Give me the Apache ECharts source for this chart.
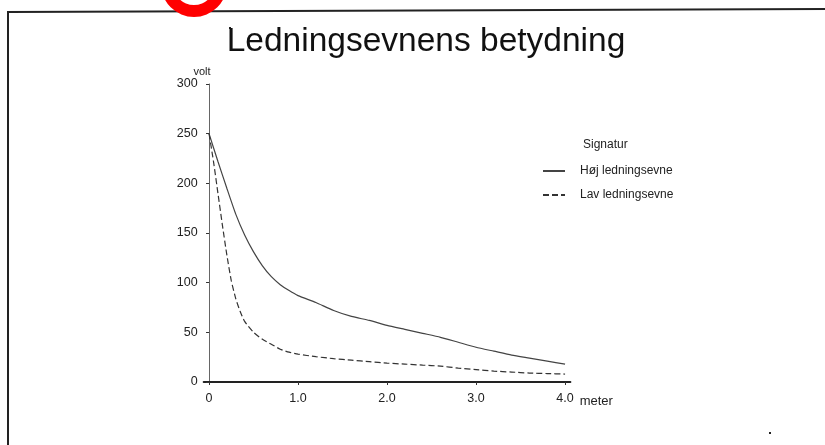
<!DOCTYPE html>
<html>
<head>
<meta charset="utf-8">
<script src="https://cdn.jsdelivr.net/npm/echarts@6/dist/echarts.min.js"></script>
<style>html,body{margin:0;padding:0;background:#fff}#c{width:825px;height:445px}</style>
</head>
<body>
<div id="c"></div>
<script>
// ---- data ----
var titleText = 'Ledningsevnens betydning';
var legendTitle = 'Signatur';
var seriesNames = ['Høj ledningsevne', 'Lav ledningsevne'];
var xTicks = [0, 1, 2, 3, 4];
var yTicks = [0, 50, 100, 150, 200, 250, 300];
var hojX = [0, 0.1, 0.2, 0.3, 0.4, 0.5, 0.6, 0.7, 0.8, 0.9, 1.0, 1.2, 1.4, 1.6, 1.8, 2.0, 2.2, 2.4, 2.6, 2.8, 3.0, 3.2, 3.4, 3.6, 3.8, 4.0];
var hojY = [250, 222, 195, 169, 148, 131, 117, 106, 98, 92, 87, 80, 72, 66, 62, 57, 53, 49, 45, 40, 35, 31, 27, 24, 21, 18];
var lavX = [0, 0.05, 0.1, 0.15, 0.2, 0.25, 0.3, 0.35, 0.4, 0.5, 0.6, 0.7, 0.8, 0.9, 1.0, 1.2, 1.4, 1.6, 1.8, 2.0, 2.2, 2.4, 2.6, 2.8, 3.0, 3.2, 3.4, 3.6, 3.8, 4.0];
var lavY = [250, 222, 190, 158, 128, 102, 84, 71, 61, 50, 43, 38, 33, 30, 28, 25.5, 23.5, 22, 20.5, 19, 18, 17, 16, 14, 12.5, 11, 10, 9, 8.5, 8];

function pairs(xs, ys) { return xs.map(function (x, i) { return [x, ys[i]]; }); }

var chart = echarts.init(document.getElementById('c'));
var FONT = 'Liberation Sans, Arial, sans-serif';
chart.setOption({
  animation: false,
  backgroundColor: '#fff',
  textStyle: { fontFamily: FONT },
  title: [
    { text: titleText, left: 421, textAlign: 'center', top: 20,
      textStyle: { fontFamily: FONT, fontSize: 33.5, fontWeight: 'normal', color: '#111' } },
    { text: legendTitle, left: 578, top: 134,
      textStyle: { fontFamily: FONT, fontSize: 12, fontWeight: 'normal', color: '#222' } }
  ],
  legend: {
    data: seriesNames,
    orient: 'vertical',
    left: 537, top: 160,
    itemWidth: 22, itemHeight: 14, itemGap: 12,
    itemStyle: { opacity: 0 },
    textStyle: { fontFamily: FONT, fontSize: 12, color: '#222', padding: [0, 0, 0, 10] }
  },
  grid: { left: 203.7, right: 254.6, top: 84, bottom: 63 },
  xAxis: {
    type: 'value', min: -0.06, max: 4.06,
    splitLine: { show: false },
    axisLine: { onZero: false, lineStyle: { color: '#222', width: 2 } },
    axisTick: { customValues: xTicks, length: 3, lineStyle: { color: '#333' } },
    axisLabel: {
      customValues: xTicks, margin: 10, fontSize: 12.5, color: '#222', fontFamily: FONT,
      formatter: function (v) { return v === 0 ? '0' : v.toFixed(1); }
    },
    name: 'meter', nameLocation: 'end', nameGap: 4,
    nameTextStyle: { fontSize: 13, color: '#222', verticalAlign: 'top', padding: [13, 0, 0, 0] }
  },
  yAxis: {
    type: 'value', min: 0, max: 300,
    splitLine: { show: false },
    axisLine: { show: true, onZero: true, lineStyle: { color: '#666', width: 1 } },
    axisTick: { show: true, customValues: yTicks, length: 3, lineStyle: { color: '#333' } },
    axisLabel: { customValues: yTicks, margin: 6, fontSize: 12.5, color: '#222', fontFamily: FONT },
    name: 'volt', nameLocation: 'end', nameGap: 3,
    nameTextStyle: { fontSize: 11, color: '#222', align: 'center', padding: [0, 14, 0, 0] }
  },
  series: [
    { name: seriesNames[0], type: 'line', data: pairs(hojX, hojY), symbol: 'none', smooth: 0.2,
      lineStyle: { color: '#444', width: 1.2, type: 'solid' }, itemStyle: { color: '#444' } },
    { name: seriesNames[1], type: 'line', data: pairs(lavX, lavY), symbol: 'none', smooth: 0.2,
      lineStyle: { color: '#333', width: 1.2, type: [6, 3] }, itemStyle: { color: '#333' } }
  ],
  graphic: [
    { type: 'polyline', shape: { points: [[8, 445], [8, 12], [825, 9]] },
      style: { stroke: '#222', lineWidth: 2, fill: null }, z: 10 },
    { type: 'ring', shape: { cx: 194, cy: -16, r: 33, r0: 21 },
      style: { fill: '#ff0000' }, z: 20 },
    { type: 'rect', shape: { x: 229, y: 27, width: 2, height: 2 }, style: { fill: '#222' } },
    { type: 'rect', shape: { x: 769, y: 432, width: 2, height: 2 }, style: { fill: '#222' } }
  ]
});
</script>
</body>
</html>
